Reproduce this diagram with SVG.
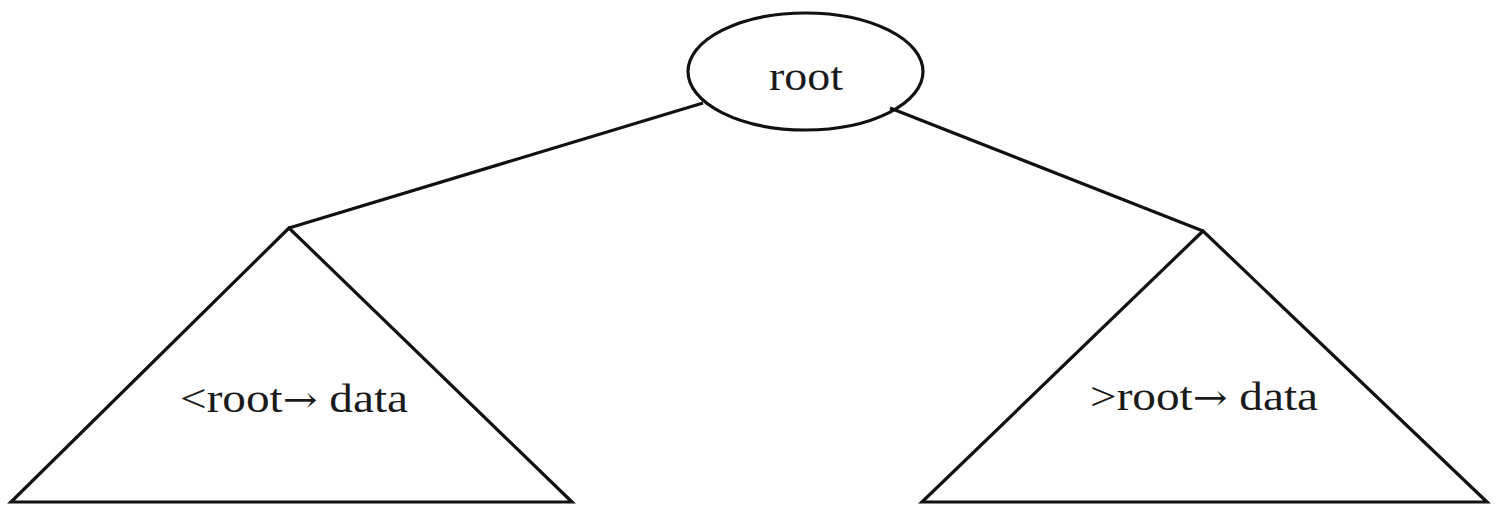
<svg xmlns="http://www.w3.org/2000/svg" width="1497" height="508" viewBox="0 0 1497 508">
<style>
.shape{fill:none;stroke:#111;stroke-width:3.2;stroke-linejoin:miter}
.edge{fill:none;stroke:#111;stroke-width:3.2}
.lbl{font-family:"Liberation Serif","DejaVu Serif",serif;fill:#1a1a1a;font-size:41px}
.arr{font-family:"DejaVu Serif","Liberation Serif",serif;font-size:36px}
</style>
<rect x="0" y="0" width="1497" height="508" fill="#ffffff"/>
<g id="connectors">
<line class="edge" x1="703" y1="103" x2="289" y2="228"/>
<line class="edge" x1="890" y1="108" x2="1203" y2="231"/>
</g>
<g id="root">
<ellipse class="shape" cx="805.5" cy="71.5" rx="117.5" ry="58.5" fill="#fff"/>
<text class="lbl" x="769" y="90" textLength="74" lengthAdjust="spacingAndGlyphs">root</text>
</g>
<g id="left-subtree">
<polygon class="shape" points="289,228 11,502 572,502"/>
<text class="lbl" x="180" y="412" textLength="228" lengthAdjust="spacingAndGlyphs">&lt;root<tspan class="arr">→</tspan> data</text>
</g>
<g id="right-subtree">
<polygon class="shape" points="1203,231 922,502 1487,502"/>
<text class="lbl" x="1090" y="410" textLength="228" lengthAdjust="spacingAndGlyphs">&gt;root<tspan class="arr">→</tspan> data</text>
</g>
</svg>
